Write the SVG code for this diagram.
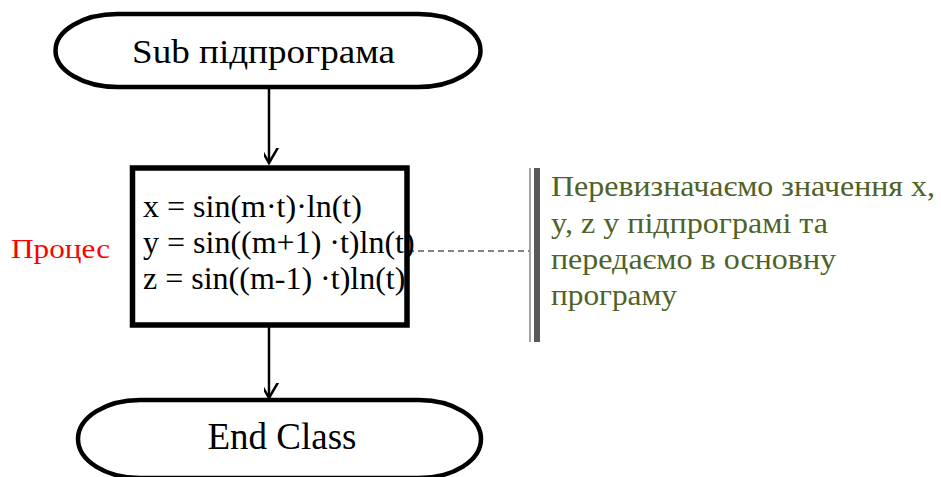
<svg xmlns="http://www.w3.org/2000/svg" width="941" height="477" viewBox="0 0 941 477">
  <defs>
    <style>
      .term { fill: #ffffff; stroke: #000000; stroke-width: 4.5; }
      .proc { fill: #ffffff; stroke: #000000; stroke-width: 5.5; }
      .t { font-family: "Liberation Serif", "DejaVu Serif", serif; fill: #000000; }
      .edge { fill: none; stroke: #000000; stroke-width: 2.5; }
      .green { font-family: "Liberation Serif", "DejaVu Serif", serif; fill: #4f6228; font-size: 30px; }
    </style>
    <marker id="arr" markerUnits="userSpaceOnUse" markerWidth="30" markerHeight="30" viewBox="-15 -25 30 30" refX="0" refY="0" orient="auto-start-reverse">
      <path d="M -11 -19 L 0 0 L 11 -19" fill="none" stroke="#000000" stroke-width="2.5" transform="rotate(-90)"/>
    </marker>
  </defs>

  <g id="connectors">
    <line class="edge" x1="269" y1="89" x2="269" y2="163" marker-end="url(#arr)"/>
    <line class="edge" x1="269" y1="327" x2="269" y2="398" marker-end="url(#arr)"/>
    <line x1="408" y1="251" x2="530" y2="251" stroke="#595959" stroke-width="1.6" stroke-dasharray="6,4"/>
  </g>

  <g id="start">
    <path class="term" d="M 117.5 14 H 418.5 A 62 36.5 0 0 1 418.5 87 H 117.5 A 62 36.5 0 0 1 117.5 14 Z"/>
    <text class="t" x="132" y="63" font-size="34" textLength="263" lengthAdjust="spacingAndGlyphs">Sub підпрограма</text>
  </g>

  <g id="process">
    <rect class="proc" x="132.5" y="168" width="274.5" height="157"/>
    <text class="t" x="143" y="217" font-size="32">x = sin(m·t)·ln(t)</text>
    <text class="t" x="143" y="253" font-size="32">y = sin((m+1) ·t)ln(t)</text>
    <text class="t" x="143" y="289" font-size="32">z = sin((m-1) ·t)ln(t)</text>
  </g>

  <g id="label">
    <text class="t" x="11" y="258" font-size="27" style="fill:#ff0000" textLength="99" lengthAdjust="spacingAndGlyphs">Процес</text>
  </g>

  <g id="end">
    <path class="term" d="M 140 400 H 419 A 62 39 0 0 1 419 478 H 140 A 62 39 0 0 1 140 400 Z"/>
    <text class="t" x="282" y="449" font-size="37" text-anchor="middle">End Class</text>
  </g>

  <g id="annotation">
    <line x1="530" y1="168" x2="530" y2="342" stroke="#999999" stroke-width="1.8"/>
    <line x1="537" y1="168" x2="537" y2="342" stroke="#595959" stroke-width="6"/>
    <text class="green" x="551" y="196" textLength="384" lengthAdjust="spacingAndGlyphs">Перевизначаємо значення x,</text>
    <text class="green" x="551" y="233" textLength="277" lengthAdjust="spacingAndGlyphs">y, z у підпрограмі та</text>
    <text class="green" x="551" y="269" textLength="285" lengthAdjust="spacingAndGlyphs">передаємо в основну</text>
    <text class="green" x="551" y="305" textLength="126" lengthAdjust="spacingAndGlyphs">програму</text>
  </g>
</svg>
